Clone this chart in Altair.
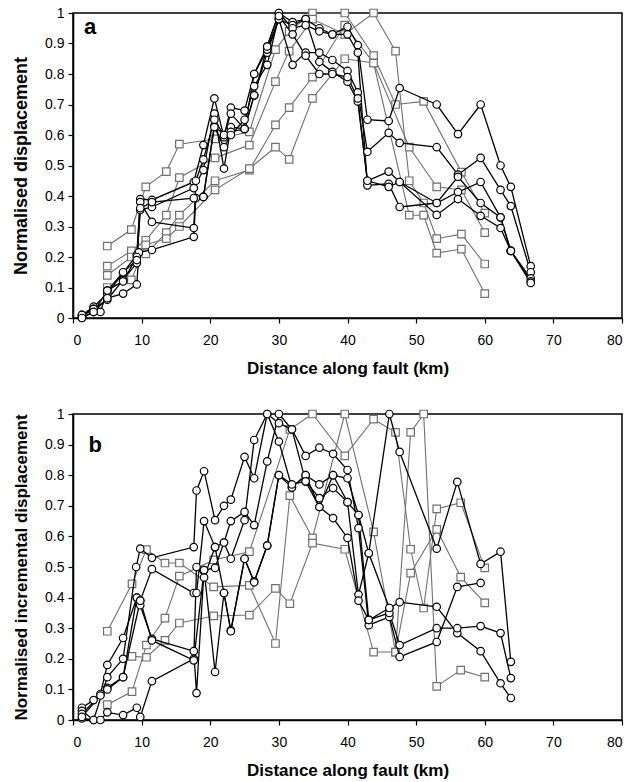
import altair as alt
import pandas as pd

# ---------------- Panel a : normalised displacement ----------------
A_C1_X = [1.3, 3, 5, 7.3, 9.3, 9.8, 11.5, 17.6, 19, 20.6, 22, 23, 25, 26.4, 28.3, 30, 32, 33.9, 35.9, 37.8, 40, 41.5, 42.9, 46, 47.6, 53, 56.1, 59.4, 62.3, 63.8, 66.7]
A_C1_Y = [0.01, 0.037, 0.08, 0.148, 0.207, 0.39, 0.387, 0.446, 0.567, 0.72, 0.593, 0.69, 0.68, 0.80, 0.89, 1.0, 0.97, 0.98, 0.95, 0.93, 0.955, 0.895, 0.65, 0.646, 0.754, 0.70, 0.603, 0.70, 0.50, 0.43, 0.17]
A_C2_X = [1.3, 3, 5, 7.3, 9.3, 9.8, 11.5, 17.6, 19, 20.6, 22, 23, 25, 26.4, 28.3, 30, 32, 33.9, 35.9, 37.8, 40, 41.5, 42.9, 46, 47.6, 53, 56.1, 59.4, 62.3, 63.8, 66.7]
A_C2_Y = [0.005, 0.03, 0.06, 0.125, 0.18, 0.354, 0.364, 0.426, 0.485, 0.67, 0.49, 0.626, 0.62, 0.73, 0.87, 0.98, 0.83, 0.87, 0.87, 0.846, 0.81, 0.74, 0.545, 0.607, 0.574, 0.56, 0.47, 0.525, 0.42, 0.367, 0.15]
A_C3_X = [1.3, 3, 5, 7.3, 9.3, 9.6, 11.5, 17.6, 17.9, 19, 20.6, 22, 23, 25, 26.4, 28.3, 30, 32, 33.9, 35.9, 37.8, 40, 41.5, 42.9, 46, 47.6, 53, 56.1, 59.4, 62.3, 63.8, 66.7]
A_C3_Y = [0.0, 0.02, 0.065, 0.08, 0.11, 0.215, 0.223, 0.266, 0.393, 0.397, 0.63, 0.60, 0.61, 0.62, 0.80, 0.88, 0.98, 0.96, 0.98, 0.84, 0.807, 0.775, 0.71, 0.45, 0.48, 0.446, 0.377, 0.463, 0.377, 0.33, 0.22, 0.13]
A_C4_X = [1.3, 3, 4, 5, 7.3, 9.3, 9.8, 11.5, 17.6, 17.9, 19, 20.6, 22, 23, 25, 26.4, 28.3, 30, 32, 33.9, 35.9, 37.8, 40, 41.5, 42.9, 46, 47.6, 53, 56.1, 59.4, 62.3, 63.8, 66.7]
A_C4_Y = [0.01, 0.03, 0.02, 0.09, 0.12, 0.2, 0.38, 0.315, 0.295, 0.45, 0.52, 0.65, 0.6, 0.67, 0.62, 0.73, 0.89, 1.0, 0.95, 0.96, 0.94, 0.93, 0.93, 0.87, 0.435, 0.44, 0.364, 0.377, 0.413, 0.446, 0.33, 0.22, 0.12]
A_C5_X = [1.3, 3, 5, 7.3, 9.3, 9.8, 11.5, 17.6, 19, 20.6, 22, 23, 25, 26.4, 28.3, 30, 32, 33.9, 35.9, 37.8, 40, 41.5, 42.9, 46, 47.6, 53, 56.1, 59.4, 62.3, 63.8, 66.7]
A_C5_Y = [0.0, 0.02, 0.09, 0.15, 0.19, 0.36, 0.38, 0.393, 0.397, 0.626, 0.56, 0.6, 0.65, 0.76, 0.83, 0.99, 0.93, 0.86, 0.80, 0.80, 0.79, 0.72, 0.45, 0.43, 0.446, 0.338, 0.39, 0.335, 0.295, 0.22, 0.115]

A_S1_X = [5, 8.5, 10.6, 13.6, 15.5, 20.7, 25.7, 29.5, 31.5, 34.9, 39.6, 43.8, 47, 51.1, 56.6, 60]
A_S1_Y = [0.236, 0.29, 0.43, 0.48, 0.57, 0.587, 0.61, 0.88, 0.94, 1.0, 1.0, 0.86, 0.70, 0.71, 0.478, 0.344]
A_S2_X = [5, 8.5, 10.6, 13.6, 15.5, 20.7, 25.7, 29.5, 31.5, 34.9, 39.6, 43.8, 47, 49, 51.1, 53, 56.6, 60]
A_S2_Y = [0.17, 0.22, 0.255, 0.337, 0.46, 0.525, 0.567, 0.775, 0.875, 0.98, 0.93, 1.0, 0.875, 0.45, 0.377, 0.26, 0.275, 0.177]
A_S3_X = [5, 8.5, 10.6, 13.6, 15.5, 20.7, 25.7, 29.5, 31.5, 34.9, 39.6, 43.8, 49, 51.1, 53, 56.6, 60]
A_S3_Y = [0.14, 0.2, 0.21, 0.28, 0.337, 0.45, 0.485, 0.633, 0.69, 0.79, 0.96, 0.836, 0.337, 0.337, 0.213, 0.226, 0.08]
A_S4_X = [5, 8.5, 10.6, 13.6, 15.5, 20.7, 25.7, 29.5, 31.5, 34.9, 39.6, 43.8, 49, 53, 56.6, 60]
A_S4_Y = [0.10, 0.125, 0.24, 0.26, 0.30, 0.42, 0.49, 0.56, 0.52, 0.72, 0.85, 0.836, 0.56, 0.43, 0.42, 0.28]

# ---------------- Panel b : normalised incremental displacement ----------------
B_C1_X = [1.3, 3, 4, 5, 7.3, 9.3, 9.8, 11.5, 17.6, 18, 19.1, 20.7, 22, 23, 25, 26.4, 28.3, 30, 31.9, 33.9, 35.9, 37.9, 40, 41.6, 43.1, 46.1, 47.6, 53, 56, 59.4]
B_C1_Y = [0.04, 0.065, 0.085, 0.18, 0.268, 0.40, 0.375, 0.265, 0.225, 0.088, 0.49, 0.497, 0.58, 0.527, 0.653, 0.915, 1.0, 0.97, 0.95, 0.863, 0.89, 0.87, 0.817, 0.627, 0.31, 0.337, 0.206, 0.255, 0.435, 0.448]
B_C2_X = [1.3, 3, 5, 7.3, 9.2, 9.8, 11.5, 17.6, 18, 19.1, 20.7, 22, 23, 25, 26.4, 28.3, 30, 31.9, 33.9, 35.9, 37.9, 40, 41.6, 43.1, 46.1, 47.6, 53, 56, 59.4, 62.3, 63.8]
B_C2_Y = [0.03, 0.0, 0.14, 0.2, 0.5, 0.56, 0.53, 0.565, 0.75, 0.813, 0.653, 0.70, 0.72, 0.86, 0.79, 1.0, 0.91, 0.76, 0.80, 0.77, 0.80, 0.79, 0.67, 0.545, 1.0, 0.876, 0.56, 0.778, 0.51, 0.55, 0.19]
B_C3_X = [1.3, 3, 4, 5, 7.3, 9.3, 9.8, 11.5, 17.6, 18, 19.1, 20.7, 22, 23, 25, 26.4, 28.3, 30, 31.9, 33.9, 35.9, 37.9, 40, 41.6, 43.1, 46.1, 47.6, 53, 56, 59.4, 62.3, 63.8]
B_C3_Y = [0.005, 0.0, 0.0, 0.025, 0.016, 0.04, 0.01, 0.127, 0.2, 0.5, 0.466, 0.565, 0.58, 0.65, 0.68, 0.637, 0.845, 1.0, 0.95, 0.78, 0.725, 0.758, 0.712, 0.41, 0.545, 0.366, 0.385, 0.37, 0.284, 0.225, 0.12, 0.072]
B_C4_X = [1.3, 5, 7.3, 9.3, 9.8, 11.5, 17.6, 18, 19.1, 20.7, 22, 23, 25, 26.4, 28.3, 30, 31.9, 33.9, 35.9, 37.9, 40, 41.6, 43.1, 46.1, 47.6, 53, 56, 59.4, 62.3, 63.8]
B_C4_Y = [0.02, 0.105, 0.14, 0.40, 0.39, 0.493, 0.415, 0.415, 0.65, 0.565, 0.415, 0.293, 0.527, 0.453, 0.57, 0.80, 0.76, 0.80, 0.696, 0.66, 0.595, 0.39, 0.327, 0.35, 0.245, 0.30, 0.30, 0.307, 0.284, 0.137]
B_C5_X = [1.3, 4, 5, 7.3, 9.8, 11.5, 17.6, 19.1, 20.7, 22, 23, 25, 26.4, 28.3, 30, 31.9, 33.9, 35.9, 37.9, 40, 41.6, 43.1, 46.1]
B_C5_Y = [0.01, 0.08, 0.10, 0.14, 0.39, 0.26, 0.195, 0.49, 0.157, 0.415, 0.29, 0.527, 0.45, 0.57, 0.80, 0.77, 0.78, 0.696, 0.80, 0.712, 0.67, 0.327, 0.366]

B_S1_X = [5, 8.6, 10.7, 13.4, 15.5, 20.5, 25.7, 29.5, 31.6, 34.9, 39.6, 43.8, 47, 49.2, 51.1, 53, 56.5, 60]
B_S1_Y = [0.29, 0.445, 0.557, 0.513, 0.513, 0.435, 0.44, 0.25, 0.733, 0.595, 1.0, 0.615, 0.222, 0.94, 1.0, 0.11, 0.163, 0.14]
B_S2_X = [5, 8.6, 10.7, 13.4, 15.5, 20.5, 25.7, 31.6, 34.9, 39.6, 43.8, 47, 49.2, 51.1, 53, 56.5, 60]
B_S2_Y = [0.05, 0.093, 0.245, 0.333, 0.47, 0.523, 0.55, 0.95, 1.0, 0.863, 0.983, 0.94, 0.558, 0.366, 0.69, 0.71, 0.497]
B_S3_X = [8.6, 10.7, 13.4, 15.5, 20.5, 25.7, 29.5, 31.6, 34.9, 39.6, 43.8, 47, 49.2, 53, 56.5, 60]
B_S3_Y = [0.208, 0.205, 0.26, 0.317, 0.34, 0.343, 0.43, 0.38, 0.578, 0.558, 0.222, 0.222, 0.48, 0.623, 0.467, 0.383]

X_TICKS = [0, 10, 20, 30, 40, 50, 60, 70, 80]
Y_TICKS = [0, 0.1, 0.2, 0.3, 0.4, 0.5, 0.6, 0.7, 0.8, 0.9, 1]
X_TITLE = "Distance along fault (km)"
A_TITLE = "Normalised displacement"
B_TITLE = "Normalised incremental displacement"
A_LETTER = ["a"]
B_LETTER = ["b"]


def make_df(series):
    rows = []
    for name, kind, xs, ys in series:
        for i, (xv, yv) in enumerate(zip(xs, ys)):
            rows.append({"series": name, "kind": kind, "idx": i, "x": xv, "y": yv})
    return pd.DataFrame(rows)


df_a = make_df([
    ("aS1", "square", A_S1_X, A_S1_Y), ("aS2", "square", A_S2_X, A_S2_Y),
    ("aS3", "square", A_S3_X, A_S3_Y), ("aS4", "square", A_S4_X, A_S4_Y),
    ("aC1", "circle", A_C1_X, A_C1_Y), ("aC2", "circle", A_C2_X, A_C2_Y),
    ("aC3", "circle", A_C3_X, A_C3_Y), ("aC4", "circle", A_C4_X, A_C4_Y),
    ("aC5", "circle", A_C5_X, A_C5_Y),
])
df_b = make_df([
    ("bS1", "square", B_S1_X, B_S1_Y), ("bS2", "square", B_S2_X, B_S2_Y),
    ("bS3", "square", B_S3_X, B_S3_Y),
    ("bC1", "circle", B_C1_X, B_C1_Y), ("bC2", "circle", B_C2_X, B_C2_Y),
    ("bC3", "circle", B_C3_X, B_C3_Y), ("bC4", "circle", B_C4_X, B_C4_Y),
    ("bC5", "circle", B_C5_X, B_C5_Y),
])

KIND_DOMAIN = ["circle", "square"]
KIND_COLORS = ["#000000", "#707070"]
W = 549


def panel(df, h, ytitle, ytitle_size, letter, lx, ly, lsize):
    xenc = alt.X("x:Q", scale=alt.Scale(domain=[0, 80], nice=False),
                 axis=alt.Axis(values=X_TICKS, title=X_TITLE, labelPadding=10,
                               titlePadding=13, format="d"))
    yenc = alt.Y("y:Q", scale=alt.Scale(domain=[0, 1], nice=False),
                 axis=alt.Axis(values=Y_TICKS, title=ytitle, format="~g",
                               labelPadding=4, titlePadding=14,
                               titleFontSize=ytitle_size))
    layers = []
    for kind, sw, sz in (("square", 1.1, 56), ("circle", 1.3, 56)):
        color = KIND_COLORS[KIND_DOMAIN.index(kind)]
        base = alt.Chart(df).transform_filter(alt.datum.kind == kind)
        line = base.mark_line(strokeWidth=sw, color=color).encode(
            x=xenc, y=yenc, detail="series:N", order="idx:Q")
        pts = base.mark_point(filled=True, fill="white", fillOpacity=1, opacity=1,
                              size=sz, strokeWidth=1.2,
                              shape="circle" if kind == "circle" else "square",
                              stroke=color).encode(x=xenc, y=yenc)
        layers += [line, pts]
    lab = alt.Chart(pd.DataFrame({"t": letter})).mark_text(
        fontSize=lsize, fontWeight="bold", align="left", baseline="alphabetic",
        color="black").encode(x=alt.value(lx), y=alt.value(ly), text="t:N")
    layers.append(lab)
    return alt.layer(*layers).properties(width=W, height=h)


pa = panel(df_a, 305, A_TITLE, 18, A_LETTER, 11, 20.5, 22)
pb = panel(df_b, 306, B_TITLE, 17, B_LETTER, 15.5, 37.5, 22)

chart = alt.vconcat(pa, pb, spacing=96, bounds="flush").properties(
    padding={"left": 11, "top": 5, "right": 5, "bottom": 3}
).configure(font="Liberation Sans").configure_view(
    stroke="black", strokeWidth=1.5
).configure_axis(
    domainColor="black", domainWidth=1.6, tickColor="black", tickSize=5,
    tickWidth=1.2, labelFontSize=14, labelColor="black", titleFontSize=17,
    titleFontWeight="bold", titleColor="black", grid=False,
    labelFont="Liberation Sans", titleFont="Liberation Sans"
)

chart.save("out.html", embed_options={"renderer": "svg", "actions": False})
